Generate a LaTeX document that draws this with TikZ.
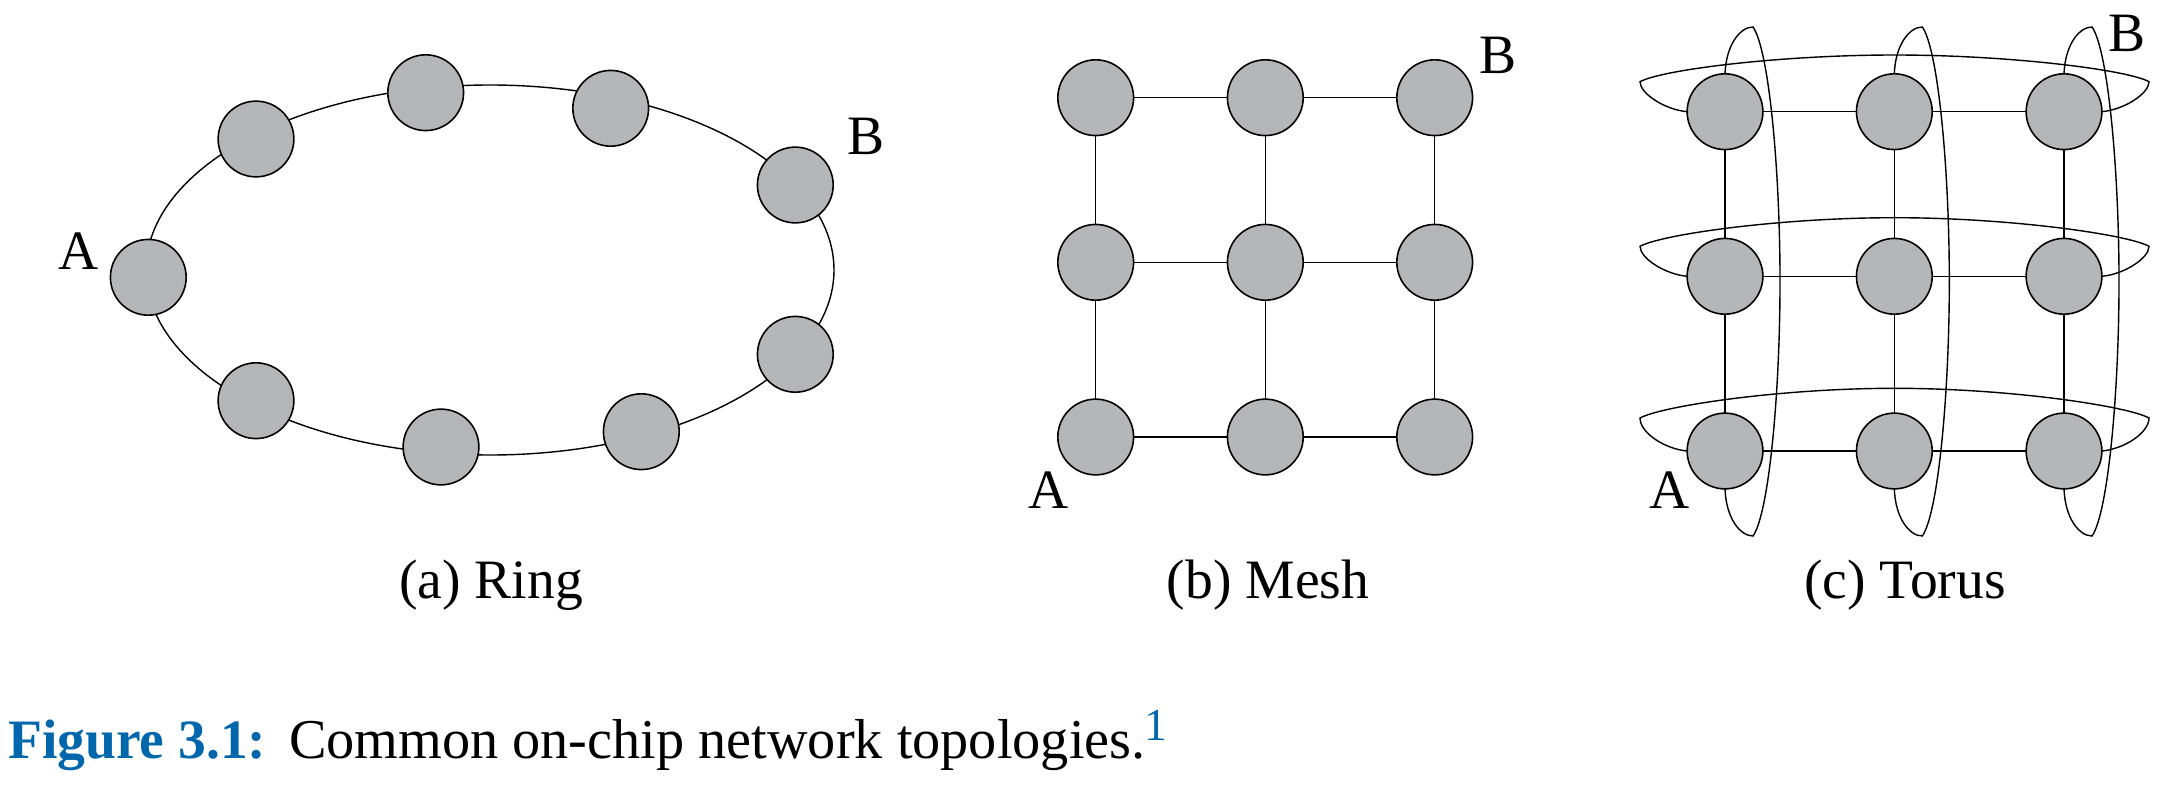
\documentclass[tikz,border=0pt]{standalone}
\usepackage{fontspec}
\setmainfont{Liberation Serif}
\definecolor{nodegray}{RGB}{181,182,184}
\definecolor{capblue}{RGB}{0,103,172}
\begin{document}
\begin{tikzpicture}[x=0.01cm,y=-0.01cm,
  nd/.style={circle,draw=black,line width=0.45pt,fill=nodegray,minimum size=0.757cm,inner sep=0pt,outer sep=0pt},
  lnk/.style={draw=black,line width=0.4pt},
  lbl/.style={anchor=base,inner sep=0pt,font=\fontsize{15.8}{19}\selectfont},
  captext/.style={anchor=base west,inner sep=0pt,font=\fontsize{16}{19}\selectfont}]
\useasboundingbox (0,0) rectangle (2167,785);

% ---------------- (a) Ring ----------------
\coordinate (ringc) at (490,270);
\draw[lnk] (ringc) ellipse [x radius=344, y radius=185];
\node[nd] (r1) at (148.3,277.3) {};
\node[nd] (r2) at (256,139) {};
\node[nd] (r3) at (425.7,92.7) {};
\node[nd] (r4) at (610.7,108.3) {};
\node[nd] (r5) at (795.3,185) {};
\node[nd] (r6) at (795.3,354.3) {};
\node[nd] (r7) at (641.3,431.7) {};
\node[nd] (r8) at (441,447) {};
\node[nd] (r9) at (256,400.7) {};
\node[lbl] (ringA) at (78.3,269.3) {A};
\node[lbl] (ringB) at (866,155) {B};
\node[lbl] (capa) at (491,598.3) {(a) Ring};

% ---------------- (b) Mesh ----------------
\foreach \c/\x in {1/1095.7,2/1265.3,3/1434.7}
  \foreach \r/\y in {1/97.7,2/262.3,3/437}
    \node[nd] (m\r\c) at (\x,\y) {};
\foreach \r in {1,2,3} {
  \draw[lnk] (m\r1) -- (m\r2);
  \draw[lnk] (m\r2) -- (m\r3);
}
\foreach \c in {1,2,3} {
  \draw[lnk] (m1\c) -- (m2\c);
  \draw[lnk] (m2\c) -- (m3\c);
}
\node[lbl] (meshA) at (1049,508.3) {A};
\node[lbl] (meshB) at (1498,73.3) {B};
\node[lbl] (capb) at (1268,598.3) {(b) Mesh};

% ---------------- (c) Torus ----------------
\foreach \c/\x in {1/1725,2/1894.3,3/2064}
  \foreach \r/\y in {1/111.7,2/276.3,3/451}
    \node[nd] (t\r\c) at (\x,\y) {};
\foreach \r in {1,2,3} {
  \draw[lnk] (t\r1) -- (t\r2);
  \draw[lnk] (t\r2) -- (t\r3);
}
\foreach \c in {1,2,3} {
  \draw[lnk] (t1\c) -- (t2\c);
  \draw[lnk] (t2\c) -- (t3\c);
}
% horizontal wrap-around links
\foreach \r/\Y/\T/\P in {1/111.7/56.7/30, 2/276.3/58.6/30, 3/451/62.7/33} {
  \draw[lnk] (t\r1.west) .. controls (1665,{\Y-2}) and (1640,{\Y-18}) .. (1640,{\Y-\P})
    .. controls (1662,{\Y-\P-12}) and (1780,{\Y-\T}) .. (1894.5,{\Y-\T})
    .. controls (2009,{\Y-\T}) and (2127,{\Y-\P-12}) .. (2149,{\Y-\P})
    .. controls (2149,{\Y-18}) and (2124,{\Y-2}) .. (t\r3.east);
}
% vertical wrap-around links
\foreach \c/\X in {1/1725,2/1894.3,3/2064} {
  \draw[lnk] (t1\c.north) .. controls ({\X+1},45) and ({\X+15},27) .. ({\X+28},27)
    .. controls ({\X+44},50) and ({\X+55},170) .. ({\X+55},281.5)
    .. controls ({\X+55},393) and ({\X+44},513) .. ({\X+28},536)
    .. controls ({\X+15},536) and ({\X+1},518) .. (t3\c.south);
}
\node[lbl] (torA) at (1670,508.3) {A};
\node[lbl] (torB) at (2127,52) {B};
\node[lbl] (capc) at (1905,598.3) {(c) Torus};

% ---------------- Figure caption ----------------
\node[captext,font=\fontsize{15.8}{19}\selectfont\bfseries,text=capblue] (fig) at (7.4,758.3) {Figure 3.1:};
\node[captext] (captxt) at (288.4,758.3) {Common on-chip network topologies.};
\node[anchor=base west,inner sep=0pt,font=\fontsize{13}{15}\selectfont,text=capblue] (fn) at ([xshift=-0.02cm,yshift=0.18cm]captxt.base east) {1};
\end{tikzpicture}
\end{document}
